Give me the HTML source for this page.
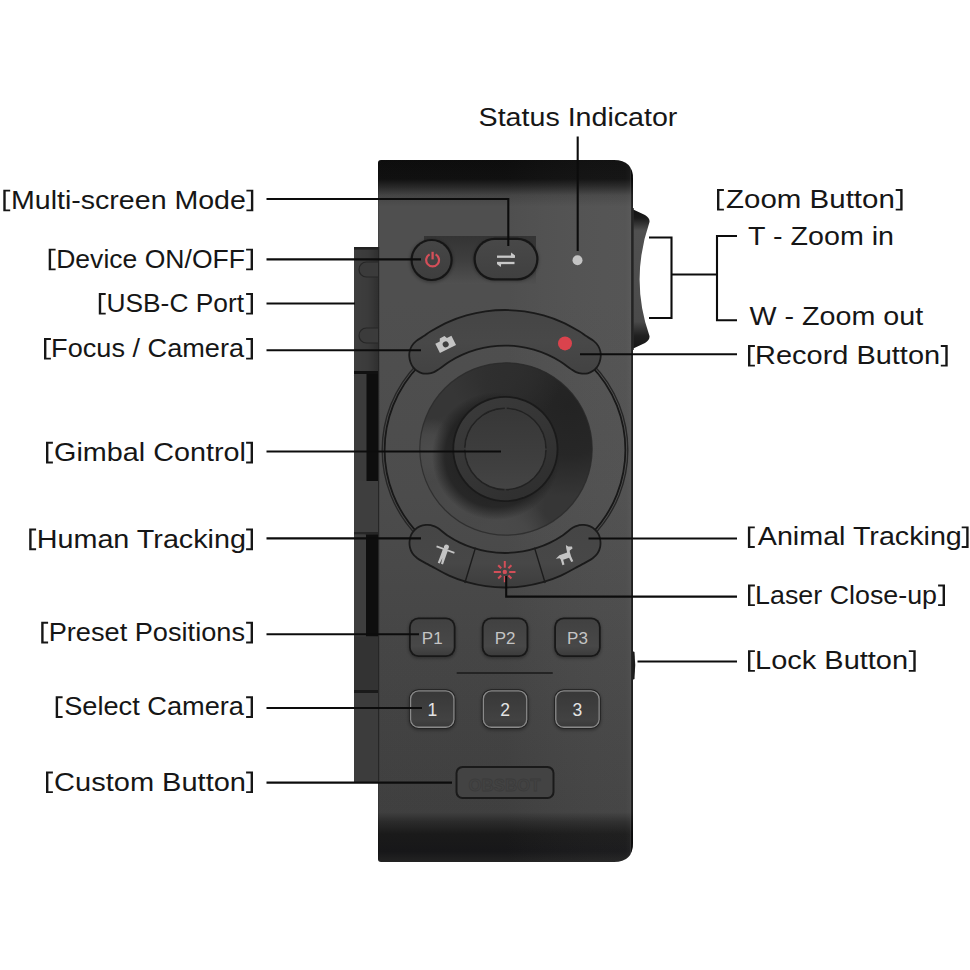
<!DOCTYPE html>
<html><head><meta charset="utf-8"><style>
html,body{margin:0;padding:0;background:#fff;width:970px;height:970px;overflow:hidden}
svg{position:absolute;left:0;top:0}
text{font-family:"Liberation Sans",sans-serif;font-size:25.5px;fill:#161616}
text.bl{font-size:17px;fill:#c4c4c4}
text.bn{font-size:17.5px;fill:#e4e4e4}
</style></head><body>
<svg width="970" height="970" viewBox="0 0 970 970">
<defs>
 <linearGradient id="body" x1="0" y1="160" x2="0" y2="862" gradientUnits="userSpaceOnUse">
  <stop offset="0" stop-color="#0e0e0e"/>
  <stop offset="0.027" stop-color="#111111"/>
  <stop offset="0.0385" stop-color="#2a2a2a"/>
  <stop offset="0.05" stop-color="#474747"/>
  <stop offset="0.066" stop-color="#525252"/>
  <stop offset="0.2" stop-color="#525252"/>
  <stop offset="0.48" stop-color="#4f4f4f"/>
  <stop offset="0.77" stop-color="#464646"/>
  <stop offset="0.929" stop-color="#424242"/>
  <stop offset="0.943" stop-color="#2c2c2c"/>
  <stop offset="0.96" stop-color="#1b1b1b"/>
  <stop offset="0.985" stop-color="#18181a"/>
  <stop offset="1" stop-color="#242424"/>
 </linearGradient>
 <linearGradient id="bodyx" x1="378" y1="0" x2="633" y2="0" gradientUnits="userSpaceOnUse">
  <stop offset="0" stop-color="#000" stop-opacity="0.25"/>
  <stop offset="0.006" stop-color="#000" stop-opacity="0.04"/>
  <stop offset="0.5" stop-color="#000" stop-opacity="0.04"/>
  <stop offset="0.97" stop-color="#fff" stop-opacity="0.02"/>
  <stop offset="0.988" stop-color="#fff" stop-opacity="0.04"/>
  <stop offset="0.992" stop-color="#000" stop-opacity="0.45"/>
  <stop offset="1" stop-color="#000" stop-opacity="0.6"/>
 </linearGradient>
 <linearGradient id="wheel" x1="0" y1="208" x2="0" y2="350" gradientUnits="userSpaceOnUse">
  <stop offset="0" stop-color="#111"/>
  <stop offset="0.07" stop-color="#1a1a1a"/>
  <stop offset="0.16" stop-color="#505050"/>
  <stop offset="0.5" stop-color="#4e4e4e"/>
  <stop offset="0.8" stop-color="#4a4a4a"/>
  <stop offset="0.9" stop-color="#202020"/>
  <stop offset="1" stop-color="#141414"/>
 </linearGradient>
 <linearGradient id="bowl" x1="440" y1="520" x2="570" y2="380" gradientUnits="userSpaceOnUse">
  <stop offset="0" stop-color="#4c4c4c"/>
  <stop offset="0.35" stop-color="#3a3a3a"/>
  <stop offset="0.7" stop-color="#2a2a2a"/>
  <stop offset="1" stop-color="#242424"/>
 </linearGradient>
 <radialGradient id="shadow" cx="495" cy="462" r="75" gradientUnits="userSpaceOnUse">
  <stop offset="0.6" stop-color="#000" stop-opacity="0.35"/>
  <stop offset="1" stop-color="#000" stop-opacity="0"/>
 </radialGradient>
 <linearGradient id="joy" x1="470" y1="400" x2="540" y2="500" gradientUnits="userSpaceOnUse">
  <stop offset="0" stop-color="#3a3a3a"/>
  <stop offset="0.5" stop-color="#353535"/>
  <stop offset="1" stop-color="#2e2e2e"/>
 </linearGradient>
 <linearGradient id="cap" x1="0" y1="408" x2="0" y2="490" gradientUnits="userSpaceOnUse">
  <stop offset="0" stop-color="#373737"/>
  <stop offset="0.6" stop-color="#3e3e3e"/>
  <stop offset="1" stop-color="#444444"/>
 </linearGradient>
 <linearGradient id="arcT" x1="0" y1="310" x2="0" y2="374" gradientUnits="userSpaceOnUse">
  <stop offset="0" stop-color="#454545"/>
  <stop offset="0.5" stop-color="#484848"/>
  <stop offset="1" stop-color="#424242"/>
 </linearGradient>
 <linearGradient id="arcB" x1="0" y1="524" x2="0" y2="589" gradientUnits="userSpaceOnUse">
  <stop offset="0" stop-color="#454545"/>
  <stop offset="0.6" stop-color="#474747"/>
  <stop offset="1" stop-color="#3c3c3c"/>
 </linearGradient>
 <linearGradient id="pb" x1="0" y1="0" x2="0" y2="1">
  <stop offset="0" stop-color="#414141"/>
  <stop offset="0.75" stop-color="#484848"/>
  <stop offset="1" stop-color="#3c3c3c"/>
 </linearGradient>
 <linearGradient id="nb" x1="0" y1="0" x2="0" y2="1">
  <stop offset="0" stop-color="#383838"/>
  <stop offset="0.8" stop-color="#424242"/>
  <stop offset="1" stop-color="#3a3a3a"/>
 </linearGradient>
 <linearGradient id="pill" x1="0" y1="0" x2="0" y2="1">
  <stop offset="0" stop-color="#484848"/>
  <stop offset="1" stop-color="#404040"/>
 </linearGradient>
 <linearGradient id="pwr" x1="0" y1="0" x2="0" y2="1">
  <stop offset="0" stop-color="#464646"/>
  <stop offset="1" stop-color="#3e3e3e"/>
 </linearGradient>
 <linearGradient id="recess" x1="0" y1="0" x2="0" y2="1">
  <stop offset="0" stop-color="#343434"/>
  <stop offset="0.5" stop-color="#3e3e3e"/>
  <stop offset="1" stop-color="#505050"/>
 </linearGradient>
 <radialGradient id="rgL1"><stop offset="0" stop-color="#4a4a4a"/><stop offset="0.55" stop-color="#4a4a4a" stop-opacity="0.8"/><stop offset="1" stop-color="#4a4a4a" stop-opacity="0"/></radialGradient>
 <radialGradient id="rgL2"><stop offset="0" stop-color="#4c4c4c"/><stop offset="0.5" stop-color="#4c4c4c" stop-opacity="0.7"/><stop offset="1" stop-color="#4c4c4c" stop-opacity="0"/></radialGradient>
 <radialGradient id="rgD1"><stop offset="0" stop-color="#232323"/><stop offset="0.55" stop-color="#232323" stop-opacity="0.8"/><stop offset="1" stop-color="#232323" stop-opacity="0"/></radialGradient>
 <radialGradient id="rgD2"><stop offset="0" stop-color="#2e2e2e"/><stop offset="0.5" stop-color="#2e2e2e" stop-opacity="0.7"/><stop offset="1" stop-color="#2e2e2e" stop-opacity="0"/></radialGradient>
 <radialGradient id="rgS"><stop offset="0" stop-color="#1c1c1c"/><stop offset="0.8" stop-color="#1c1c1c" stop-opacity="0.75"/><stop offset="1" stop-color="#1c1c1c" stop-opacity="0"/></radialGradient>
 <linearGradient id="panelx" x1="354" y1="0" x2="379" y2="0" gradientUnits="userSpaceOnUse">
  <stop offset="0" stop-color="#000" stop-opacity="0"/>
  <stop offset="0.55" stop-color="#000" stop-opacity="0.05"/>
  <stop offset="1" stop-color="#000" stop-opacity="0.25"/>
 </linearGradient>
 <clipPath id="bowlclip"><circle cx="506" cy="449" r="86.2"/></clipPath>
 <filter id="b14" x="-50%" y="-50%" width="200%" height="200%"><feGaussianBlur stdDeviation="14"/></filter>
 <filter id="b8" x="-50%" y="-50%" width="200%" height="200%"><feGaussianBlur stdDeviation="6"/></filter>
 <filter id="b2" x="-50%" y="-50%" width="200%" height="200%"><feGaussianBlur stdDeviation="1.5"/></filter>
</defs>

<!-- side panel -->
<rect x="354" y="247" width="26" height="535" fill="#3e3e3e"/>
<rect x="354" y="247" width="26" height="534" fill="url(#panelx)"/>
<rect x="354" y="247" width="26" height="2.6" fill="#222"/>
<path d="M379,262 h-12.5 a7.5,7.5 0 0 0 0,15 h12.5" fill="#3b3b3b" stroke="#262626" stroke-width="1.2"/>
<path d="M379,328 h-12.5 a7.5,7.5 0 0 0 0,15 h12.5" fill="#3b3b3b" stroke="#262626" stroke-width="1.2"/>
<rect x="354" y="371" width="25" height="3" fill="#111"/>
<rect x="354" y="374" width="12.5" height="106" rx="1.5" fill="#3c3c3c"/>
<rect x="366.5" y="374" width="12.5" height="107" fill="#0e0e0e"/>
<rect x="354" y="481" width="25" height="52" fill="#3e3e3e"/>
<rect x="354" y="532" width="25" height="2.5" fill="#262626"/>
<rect x="354" y="534.5" width="12" height="102" rx="1.5" fill="#3e3e3e"/>
<rect x="366" y="534.5" width="13" height="102" fill="#0e0e0e"/>
<rect x="354" y="636.5" width="25" height="54" fill="#333"/>
<rect x="354" y="690" width="25" height="3" fill="#1a1a1a"/>
<rect x="354" y="693" width="25" height="89" fill="#3c3c3c"/>

<!-- zoom wheel -->
<path d="M630,208 L645,215 Q650,218 649.5,222 Q629.7,280 649.5,336 Q650,340 645,343 L630,350 Z" fill="url(#wheel)"/>
<path d="M633,208 V350" stroke="#2a2a2a" stroke-width="1.5"/>
<!-- lock bump -->
<path d="M630,650 L634.5,652 Q636,665 634.5,679 L630,681 Z" fill="#1c1c1c"/>

<!-- body -->
<path d="M381,160 H614 Q633,160 633,179 V843 Q633,862 614,862 H381 Q378,862 378,859 V163 Q378,160 381,160 Z" fill="url(#body)"/>
<path d="M381,160 H614 Q633,160 633,179 V843 Q633,862 614,862 H381 Q378,862 378,859 V163 Q378,160 381,160 Z" fill="url(#bodyx)"/>

<path d="M378.6,247 V781" stroke="#262626" stroke-width="1.2"/>
<!-- recess + top buttons -->
<rect x="424" y="236" width="112" height="48" fill="url(#recess)"/>
<circle cx="431.5" cy="261" r="22" fill="#000" opacity="0.25" filter="url(#b2)"/>
<circle cx="431.6" cy="260" r="21.1" fill="#161616"/>
<circle cx="431.6" cy="260" r="18.9" fill="url(#pwr)"/>
<path d="M429.6,254.4 A6.4,6.4 0 1 0 435.6,254.4" fill="none" stroke="#d44f59" stroke-width="2.2"/>
<line x1="432.6" y1="251.8" x2="432.6" y2="259.4" stroke="#d44f59" stroke-width="2.3"/>
<rect x="473" y="238.5" width="66" height="43" rx="21.5" fill="#000" opacity="0.25" filter="url(#b2)"/>
<rect x="473.5" y="237.7" width="65" height="42.9" rx="21.4" fill="#161616"/>
<rect x="475.8" y="240" width="60.4" height="38.3" rx="19.1" fill="url(#pill)"/>
<path d="M497,256.7 H514.5" stroke="#c8c8c8" stroke-width="2.3"/>
<path d="M511.2,252.6 L515,255.6 V257.8 H510.6 Z" fill="#c8c8c8"/>
<path d="M497,263 H514.5" stroke="#c8c8c8" stroke-width="2.3"/>
<path d="M500.8,267.1 L497,264.1 V261.9 H501.4 Z" fill="#c8c8c8"/>
<circle cx="577.5" cy="260.2" r="5" fill="#c4c4c4"/>

<!-- gimbal -->
<circle cx="505" cy="450" r="122.8" fill="none" stroke="#262626" stroke-width="1.4"/>
<circle cx="505" cy="450" r="120.4" fill="none" stroke="#181818" stroke-width="1.8"/>
<g clip-path="url(#bowlclip)">
 <rect x="410" y="355" width="190" height="190" fill="#363636"/>
 <circle cx="455" cy="505" r="90" fill="url(#rgL1)"/>
 <circle cx="428" cy="450" r="32" fill="url(#rgL2)"/>
 <circle cx="568" cy="405" r="92" fill="url(#rgD1)"/>
 <circle cx="506" cy="368" r="58" fill="url(#rgD2)"/>
 <circle cx="506" cy="548" r="52" fill="url(#rgL1)"/>
 <circle cx="496" cy="456" r="64" fill="url(#rgS)"/>
</g>
<circle cx="506" cy="449" r="86.2" fill="none" stroke="#2a2a2a" stroke-width="1.2" opacity="0.8"/>
<circle cx="505.4" cy="449" r="53" fill="#1a1a1a"/>
<circle cx="505.4" cy="449" r="51.2" fill="url(#joy)"/>
<circle cx="505.4" cy="449" r="40.6" fill="none" stroke="#222" stroke-width="1.6" stroke-dasharray="61.8 2" stroke-dashoffset="-1"/>
<circle cx="505.4" cy="449" r="39.8" fill="url(#cap)"/>

<!-- arcs -->
<path d="M505.00,310.00 C498.51,310.00 491.95,310.46 485.52,311.36 C479.08,312.27 472.65,313.63 466.41,315.42 C460.17,317.21 453.99,319.46 448.06,322.10 C442.12,324.75 434.70,329.02 430.81,331.27 C426.92,333.52 427.15,333.96 424.70,335.60 C422.25,337.24 418.27,339.35 416.10,341.10 C413.93,342.85 412.78,344.35 411.70,346.10 C410.62,347.85 410.00,349.85 409.60,351.60 C409.20,353.35 409.15,354.83 409.30,356.60 C409.45,358.37 409.88,360.45 410.50,362.20 C411.12,363.95 411.87,365.62 413.00,367.10 C414.13,368.58 415.75,370.07 417.30,371.10 C418.85,372.13 420.55,372.88 422.30,373.30 C424.05,373.72 425.85,373.80 427.80,373.60 C429.75,373.40 432.08,372.89 434.00,372.10 C435.92,371.31 436.69,370.64 439.30,368.87 C441.91,367.09 445.80,363.84 449.68,361.46 C453.55,359.09 458.11,356.60 462.54,354.63 C466.96,352.66 471.57,350.98 476.22,349.64 C480.88,348.31 485.67,347.29 490.47,346.62 C495.27,345.94 500.16,345.60 505.00,345.60 C509.84,345.60 514.73,345.94 519.53,346.62 C524.33,347.29 529.12,348.31 533.78,349.64 C538.43,350.98 543.04,352.66 547.46,354.63 C551.89,356.60 556.45,359.09 560.32,361.46 C564.20,363.84 568.09,367.09 570.70,368.87 C573.31,370.64 574.08,371.31 576.00,372.10 C577.92,372.89 580.25,373.40 582.20,373.60 C584.15,373.80 585.95,373.72 587.70,373.30 C589.45,372.88 591.15,372.13 592.70,371.10 C594.25,370.07 595.87,368.58 597.00,367.10 C598.13,365.62 598.88,363.95 599.50,362.20 C600.12,360.45 600.55,358.37 600.70,356.60 C600.85,354.83 600.80,353.35 600.40,351.60 C600.00,349.85 599.38,347.85 598.30,346.10 C597.22,344.35 596.07,342.85 593.90,341.10 C591.73,339.35 587.75,337.24 585.30,335.60 C582.85,333.96 583.08,333.52 579.19,331.27 C575.30,329.02 567.88,324.75 561.94,322.10 C556.01,319.46 549.83,317.21 543.59,315.42 C537.35,313.63 530.92,312.27 524.48,311.36 C518.05,310.46 511.49,310.00 505.00,310.00 Z" fill="url(#arcT)" stroke="#1a1a1a" stroke-width="1.8"/>
<path d="M505.00,587.50 C498.62,587.50 492.18,587.05 485.86,586.16 C479.55,585.27 473.23,583.93 467.10,582.17 C460.97,580.42 454.90,578.21 449.07,575.61 C443.25,573.02 434.65,567.94 432.14,566.61 C429.62,565.27 435.24,568.27 434.00,567.60 C432.76,566.93 427.48,564.15 424.70,562.60 C421.92,561.05 419.35,559.85 417.30,558.30 C415.25,556.75 413.63,555.15 412.40,553.30 C411.17,551.45 410.37,549.25 409.90,547.20 C409.43,545.15 409.40,543.07 409.60,541.00 C409.80,538.93 410.23,536.67 411.10,534.80 C411.97,532.93 413.35,531.20 414.80,529.80 C416.25,528.40 417.93,527.22 419.80,526.40 C421.67,525.58 424.15,525.10 426.00,524.90 C427.85,524.70 429.00,524.73 430.90,525.20 C432.80,525.67 434.68,526.04 437.43,527.74 C440.18,529.43 443.67,532.92 447.40,535.39 C451.14,537.86 455.55,540.48 459.85,542.58 C464.14,544.67 468.63,546.48 473.17,547.96 C477.72,549.44 481.81,550.60 487.11,551.44 C492.42,552.28 499.04,553.00 505.00,553.00 C510.96,553.00 517.58,552.28 522.89,551.44 C528.19,550.60 532.28,549.44 536.83,547.96 C541.37,546.48 545.86,544.67 550.15,542.58 C554.45,540.48 558.86,537.86 562.60,535.39 C566.33,532.92 569.82,529.43 572.57,527.74 C575.32,526.04 577.20,525.67 579.10,525.20 C581.00,524.73 582.15,524.70 584.00,524.90 C585.85,525.10 588.33,525.58 590.20,526.40 C592.07,527.22 593.75,528.40 595.20,529.80 C596.65,531.20 598.03,532.93 598.90,534.80 C599.77,536.67 600.20,538.93 600.40,541.00 C600.60,543.07 600.57,545.15 600.10,547.20 C599.63,549.25 598.83,551.45 597.60,553.30 C596.37,555.15 594.75,556.75 592.70,558.30 C590.65,559.85 588.08,561.05 585.30,562.60 C582.52,564.15 577.24,566.93 576.00,567.60 C574.76,568.27 580.38,565.27 577.86,566.61 C575.35,567.94 566.75,573.02 560.93,575.61 C555.10,578.21 549.03,580.42 542.90,582.17 C536.77,583.93 530.45,585.27 524.14,586.16 C517.82,587.05 511.38,587.50 505.00,587.50 Z" fill="url(#arcB)" stroke="#1a1a1a" stroke-width="1.8"/>
<path d="M475.52,547.65 L464.82,583.07 M534.48,547.65 L545.18,583.07" stroke="#1c1c1c" stroke-width="1.4"/>

<!-- camera icon -->
<g transform="translate(445.6,344.2) rotate(-26.6)" fill="#c4c4c4">
 <path d="M-9,-5 H-4 L-2.6,-7.8 H2.6 L4,-5 H9 V5.3 H-9 Z"/>
 <circle cx="0" cy="0.2" r="3" fill="#3e3e3e"/>
</g>
<circle cx="565" cy="343.4" r="7" fill="#da434d"/>

<!-- human icon -->
<g fill="#c4c4c4" transform="translate(443.6,554.8) rotate(20)">
 <circle cx="0" cy="-8.2" r="2.5"/>
 <path d="M-9.5,-4.6 V-6.4 H9.5 V-4.6 L2.6,-4.6 V2.6 L2.8,9.4 H0.7 L0,3.4 L-0.7,9.4 H-2.8 L-2.6,2.6 V-4.6 Z"/>
</g>
<!-- laser icon -->
<g stroke="#d24e58" stroke-width="2" transform="translate(504.8,571.9)" fill="none">
 <path d="M0,-10.8 V-4.2 M0,4.2 V10.4 M-11,0 H-3.9 M4.4,0 H10.7 M-6.6,-6.6 L-3.6,-3.6 M6.6,-6.6 L3.6,-3.6 M-6.6,6.6 L-3.6,3.6 M6.6,6.6 L3.6,3.6"/>
 <circle cx="0" cy="0" r="2.2" fill="#d24e58" stroke="none"/>
</g>
<!-- dog icon -->
<g fill="#c4c4c4" transform="translate(566,555.8) rotate(-20)">
 <path d="M-10.6,-0.6 L-6,-2.8 H2.2 L2.8,-7.2 L3.6,-10.2 L5.2,-8 L8.8,-6.6 L8.6,-4.6 L5.4,-3.8 L4.8,-2.2 L4.6,2.4 L5,7.6 H2.8 L2.2,2.8 H-4 L-4.4,7.6 H-6.6 L-6.2,1.6 L-6.8,0 Z"/>
</g>

<!-- keypad -->
<rect x="408.5" y="618.3" width="47.5" height="40.3" rx="10" fill="#000" opacity="0.3" filter="url(#b2)"/><rect x="409" y="617.5" width="46.5" height="39.5" rx="9.5" fill="#181818"/><rect x="410.8" y="619.3" width="42.9" height="35.9" rx="7.8" fill="url(#pb)"/><text x="432.25" y="644.1" text-anchor="middle" class="bl">P1</text>
<rect x="481.3" y="618.3" width="47.5" height="40.3" rx="10" fill="#000" opacity="0.3" filter="url(#b2)"/><rect x="481.8" y="617.5" width="46.5" height="39.5" rx="9.5" fill="#181818"/><rect x="483.6" y="619.3" width="42.9" height="35.9" rx="7.8" fill="url(#pb)"/><text x="505.05" y="644.1" text-anchor="middle" class="bl">P2</text>
<rect x="553.7" y="618.3" width="47.5" height="40.3" rx="10" fill="#000" opacity="0.3" filter="url(#b2)"/><rect x="554.2" y="617.5" width="46.5" height="39.5" rx="9.5" fill="#181818"/><rect x="556.0" y="619.3" width="42.9" height="35.9" rx="7.8" fill="url(#pb)"/><text x="577.45" y="644.1" text-anchor="middle" class="bl">P3</text>
<rect x="408.5" y="690.0999999999999" width="47.5" height="40.3" rx="10" fill="#000" opacity="0.3" filter="url(#b2)"/><rect x="409" y="689.3" width="46.5" height="39.5" rx="9.5" fill="#202020"/><rect x="409.9" y="690.1999999999999" width="44.7" height="37.7" rx="8.7" fill="#8a8a8a"/><rect x="411.2" y="691.5" width="42.1" height="35.1" rx="7.4" fill="url(#nb)"/><text x="432.25" y="715.6999999999999" text-anchor="middle" class="bn">1</text>
<rect x="481.3" y="690.0999999999999" width="47.5" height="40.3" rx="10" fill="#000" opacity="0.3" filter="url(#b2)"/><rect x="481.8" y="689.3" width="46.5" height="39.5" rx="9.5" fill="#202020"/><rect x="482.7" y="690.1999999999999" width="44.7" height="37.7" rx="8.7" fill="#8a8a8a"/><rect x="484.0" y="691.5" width="42.1" height="35.1" rx="7.4" fill="url(#nb)"/><text x="505.05" y="715.6999999999999" text-anchor="middle" class="bn">2</text>
<rect x="553.7" y="690.0999999999999" width="47.5" height="40.3" rx="10" fill="#000" opacity="0.3" filter="url(#b2)"/><rect x="554.2" y="689.3" width="46.5" height="39.5" rx="9.5" fill="#202020"/><rect x="555.1" y="690.1999999999999" width="44.7" height="37.7" rx="8.7" fill="#8a8a8a"/><rect x="556.4000000000001" y="691.5" width="42.1" height="35.1" rx="7.4" fill="url(#nb)"/><text x="577.45" y="715.6999999999999" text-anchor="middle" class="bn">3</text>
<rect x="456.5" y="672" width="96.5" height="2" rx="1" fill="#242424"/>
<rect x="455.5" y="766" width="99" height="33" rx="7" fill="#1a1a1a"/>
<rect x="457.5" y="768" width="95" height="29" rx="5.2" fill="#434343"/>
<text x="504.5" y="791" text-anchor="middle" textLength="72" lengthAdjust="spacingAndGlyphs" style="font-size:17px;font-weight:bold;fill:none;stroke:#3b3b3b;stroke-width:0.8">OBSBOT</text>

<!-- leader lines -->
<g stroke="#0c0c0c" stroke-width="2.1" fill="none">
 <path d="M266.5,199 H508.3 V246"/>
 <path d="M266.5,259.4 H421"/>
 <path d="M266.5,303.5 H355"/>
 <path d="M266.5,350.3 H421"/>
 <path d="M266.5,451.5 H501"/>
 <path d="M266.5,538.4 H421"/>
 <path d="M266.5,634.3 H419"/>
 <path d="M266.5,708 H422"/>
 <path d="M266.5,782.6 H452"/>
 <path d="M577.7,136.5 V251"/>
 <path d="M649,237.5 H671.5 V318 H649 M671.5,274.5 H717 M737,236 H717 V320.3 H737"/>
 <path d="M580,354.2 H737"/>
 <path d="M588.5,538.5 H737"/>
 <path d="M506.2,576 V596.6 H737"/>
 <path d="M637.5,661.5 H737"/>
</g>

<!-- labels -->
<text x="11.00" y="208.7" textLength="234.90" lengthAdjust="spacingAndGlyphs">Multi-screen Mode</text>
<text x="56.20" y="267.7" textLength="188.80" lengthAdjust="spacingAndGlyphs">Device ON/OFF</text>
<text x="106.50" y="312" textLength="137.50" lengthAdjust="spacingAndGlyphs">USB-C Port</text>
<text x="51.10" y="357" textLength="192.90" lengthAdjust="spacingAndGlyphs">Focus / Camera</text>
<text x="54.10" y="460.8" textLength="191.90" lengthAdjust="spacingAndGlyphs">Gimbal Control</text>
<text x="36.70" y="547.6" textLength="209.30" lengthAdjust="spacingAndGlyphs">Human Tracking</text>
<text x="48.70" y="640.8" textLength="196.30" lengthAdjust="spacingAndGlyphs">Preset Positions</text>
<text x="64.20" y="715.3" textLength="179.80" lengthAdjust="spacingAndGlyphs">Select Camera</text>
<text x="54.10" y="790.5" textLength="191.90" lengthAdjust="spacingAndGlyphs">Custom Button</text>
<text x="478.60" y="126" textLength="198.80" lengthAdjust="spacingAndGlyphs">Status Indicator</text>
<text x="726.10" y="208" textLength="168.70" lengthAdjust="spacingAndGlyphs">Zoom Button</text>
<text x="748.10" y="245" textLength="145.90" lengthAdjust="spacingAndGlyphs">T - Zoom in</text>
<text x="749.50" y="325" textLength="173.60" lengthAdjust="spacingAndGlyphs">W - Zoom out</text>
<text x="755.10" y="364" textLength="185.00" lengthAdjust="spacingAndGlyphs">Record Button</text>
<text x="757.80" y="545.4" textLength="204.00" lengthAdjust="spacingAndGlyphs">Animal Tracking</text>
<text x="755.10" y="603.5" textLength="181.90" lengthAdjust="spacingAndGlyphs">Laser Close-up</text>
<text x="755.10" y="669.2" textLength="153.00" lengthAdjust="spacingAndGlyphs">Lock Button</text>
<path d="M3.30,189.70 h6.9 v1.9 h-4.5 v17.80 h4.5 v1.9 h-6.9 Z M253.30,189.70 h-6.9 v1.9 h4.5 v17.80 h-4.5 v1.9 h6.9 Z M48.70,248.70 h6.9 v1.9 h-4.5 v17.80 h4.5 v1.9 h-6.9 Z M253.00,248.70 h-6.9 v1.9 h4.5 v17.80 h-4.5 v1.9 h6.9 Z M98.80,293.00 h6.9 v1.9 h-4.5 v17.80 h4.5 v1.9 h-6.9 Z M253.00,293.00 h-6.9 v1.9 h4.5 v17.80 h-4.5 v1.9 h6.9 Z M44.00,338.00 h6.9 v1.9 h-4.5 v17.80 h4.5 v1.9 h-6.9 Z M253.00,338.00 h-6.9 v1.9 h4.5 v17.80 h-4.5 v1.9 h6.9 Z M46.00,441.80 h6.9 v1.9 h-4.5 v17.80 h4.5 v1.9 h-6.9 Z M253.00,441.80 h-6.9 v1.9 h4.5 v17.80 h-4.5 v1.9 h6.9 Z M29.20,528.60 h6.9 v1.9 h-4.5 v17.80 h4.5 v1.9 h-6.9 Z M253.00,528.60 h-6.9 v1.9 h4.5 v17.80 h-4.5 v1.9 h6.9 Z M41.20,621.80 h6.9 v1.9 h-4.5 v17.80 h4.5 v1.9 h-6.9 Z M253.00,621.80 h-6.9 v1.9 h4.5 v17.80 h-4.5 v1.9 h6.9 Z M55.70,696.30 h6.9 v1.9 h-4.5 v17.80 h4.5 v1.9 h-6.9 Z M253.00,696.30 h-6.9 v1.9 h4.5 v17.80 h-4.5 v1.9 h6.9 Z M46.00,771.50 h6.9 v1.9 h-4.5 v17.80 h4.5 v1.9 h-6.9 Z M253.00,771.50 h-6.9 v1.9 h4.5 v17.80 h-4.5 v1.9 h6.9 Z M717.00,189.00 h6.9 v1.9 h-4.5 v17.80 h4.5 v1.9 h-6.9 Z M902.60,189.00 h-6.9 v1.9 h4.5 v17.80 h-4.5 v1.9 h6.9 Z M748.00,345.00 h6.9 v1.9 h-4.5 v17.80 h4.5 v1.9 h-6.9 Z M947.70,345.00 h-6.9 v1.9 h4.5 v17.80 h-4.5 v1.9 h6.9 Z M747.90,526.40 h6.9 v1.9 h-4.5 v17.80 h4.5 v1.9 h-6.9 Z M968.60,526.40 h-6.9 v1.9 h4.5 v17.80 h-4.5 v1.9 h6.9 Z M748.00,584.50 h6.9 v1.9 h-4.5 v17.80 h4.5 v1.9 h-6.9 Z M945.00,584.50 h-6.9 v1.9 h4.5 v17.80 h-4.5 v1.9 h6.9 Z M748.00,650.20 h6.9 v1.9 h-4.5 v17.80 h4.5 v1.9 h-6.9 Z M915.70,650.20 h-6.9 v1.9 h4.5 v17.80 h-4.5 v1.9 h6.9 Z" fill="#161616"/>
</svg>
</body></html>
